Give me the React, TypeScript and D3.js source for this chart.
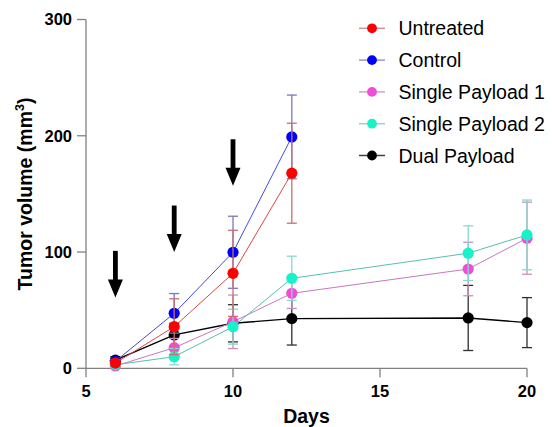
import React from "react";
import * as d3 from "d3";

const days = [6, 8, 10, 12, 18, 20];

const untreated = [4.5, 35.8, 81.7, 167.8];
const untreatedErr = [3, 24, 37, 43];
const control = [6, 47.3, 99.8, 199];
const controlErr = [3, 17, 31, 36];
const single1 = [2, 17.7, 40, 64.5, 85.4, 111.9];
const single1Err = [2, 8, 23, 13, 23, 31];
const single2 = [3, 10, 35.8, 77.4, 99, 114.7];
const single2Err = [2, 7, 15, 19, 23.5, 30];
const dual = [7, 28.7, 38.7, 42.7, 43.3, 39.3];
const dualErr = [3, 10, 16, 22.7, 28, 21.5];

const arrowDays = [6, 8, 10];
const arrowTips = [61, 100, 157];
const arrowLen = 40;

const xTicks = [5, 10, 15, 20];
const yTicks = [0, 100, 200, 300];

type Series = {
  name: string;
  values: number[];
  errs: number[];
  fill: string;
  line: string;
  bar: string;
  legendLine: string;
  lineWidth: number;
};

const series: Series[] = [
  { name: "Untreated", values: untreated, errs: untreatedErr, fill: "#ff0000", line: "#d84848", bar: "#c87070", legendLine: "#c89898", lineWidth: 1 },
  { name: "Control", values: control, errs: controlErr, fill: "#0000ff", line: "#4848e0", bar: "#7878c8", legendLine: "#9898c8", lineWidth: 1 },
  { name: "Single Payload 1", values: single1, errs: single1Err, fill: "#f04cd8", line: "#c878c0", bar: "#c890c0", legendLine: "#c8a8c4", lineWidth: 1 },
  { name: "Single Payload 2", values: single2, errs: single2Err, fill: "#18f2c8", line: "#58c0b0", bar: "#88d8cc", legendLine: "#a8ccc4", lineWidth: 1 },
  { name: "Dual Payload", values: dual, errs: dualErr, fill: "#000000", line: "#000000", bar: "#303030", legendLine: "#404040", lineWidth: 1.4 },
];

// back-to-front order: red ends up on top like in the original
const drawOrder = [4, 2, 3, 1, 0];

const W = 552;
const H = 427;

export default function App() {
  const x = d3.scaleLinear().domain([5, 20]).range([86, 527]);
  const y = d3.scaleLinear().domain([0, 300]).range([368.3, 19.5]);
  const axisColor = "#808080";
  const line = d3
    .line<number>()
    .x((_, i) => x(days[i]))
    .y((d) => y(d));

  return (
    <svg
      width={W}
      height={H}
      style={{ position: "absolute", left: 0, top: 0, background: "#fff" }}
      fontFamily="Arial, 'Liberation Sans', sans-serif"
    >
      {/* y axis */}
      <line x1={x(5)} x2={x(5)} y1={y(0)} y2={y(300)} stroke={axisColor} strokeWidth={1.3} />
      {yTicks.map((t) => (
        <g key={"y" + t}>
          <line x1={x(5) - 9} x2={x(5)} y1={y(t)} y2={y(t)} stroke={axisColor} strokeWidth={1.3} />
          <text x={x(5) - 14} y={y(t)} dy="0.36em" textAnchor="end" fontWeight="bold" fontSize={16.5}>
            {t}
          </text>
        </g>
      ))}
      {/* x axis */}
      <line x1={x(5)} x2={x(20)} y1={y(0)} y2={y(0)} stroke={axisColor} strokeWidth={1.3} />
      {xTicks.map((t) => (
        <g key={"x" + t}>
          <line x1={x(t)} x2={x(t)} y1={y(0)} y2={y(0) + 9} stroke={axisColor} strokeWidth={1.3} />
          <text x={x(t)} y={397} textAnchor="middle" fontWeight="bold" fontSize={16.5}>
            {t}
          </text>
        </g>
      ))}
      <text x={306.5} y={423} textAnchor="middle" fontWeight="bold" fontSize={19.5}>
        Days
      </text>
      <text
        transform={`translate(32,${194}) rotate(-90)`}
        textAnchor="middle"
        fontWeight="bold"
        fontSize={19.5}
      >
        Tumor volume (mm<tspan fontSize={12.5} dy={-8}>3</tspan>
        <tspan dy={8}>)</tspan>
      </text>

      {/* treatment arrows */}
      {arrowDays.map((d, i) => {
        const cx = x(d);
        const tip = y(arrowTips[i]);
        const top = y(arrowTips[i] + arrowLen);
        return (
          <g key={"a" + d}>
            <rect x={cx - 2.4} y={top} width={4.8} height={tip - top - 12} fill="#000" />
            <path d={`M${cx - 7.5},${tip - 18} L${cx + 7.5},${tip - 18} L${cx},${tip} Z`} fill="#000" />
          </g>
        );
      })}

      {/* series */}
      {drawOrder.map((si) => {
        const s = series[si];
        return (
          <g key={s.name}>
            {s.values.map((v, i) => {
              const cx = x(days[i]);
              const hi = y(v + s.errs[i]);
              const lo = y(Math.max(0, v - s.errs[i]));
              return (
                <g key={i} stroke={s.bar} strokeWidth={1.3}>
                  <line x1={cx} x2={cx} y1={hi} y2={lo} />
                  <line x1={cx - 5} x2={cx + 5} y1={hi} y2={hi} />
                  <line x1={cx - 5} x2={cx + 5} y1={lo} y2={lo} />
                </g>
              );
            })}
            <path d={line(s.values) || ""} fill="none" stroke={s.line} strokeWidth={s.lineWidth} />
            {s.values.map((v, i) => (
              <circle key={"c" + i} cx={x(days[i])} cy={y(v)} r={5.6} fill={s.fill} />
            ))}
          </g>
        );
      })}

      {/* legend */}
      {series.map((s, i) => {
        const ly = 28.3 + i * 31.8;
        return (
          <g key={"l" + s.name}>
            <line x1={359} x2={385} y1={ly} y2={ly} stroke={s.legendLine} strokeWidth={1.5} />
            <circle cx={372} cy={ly} r={4.9} fill={s.fill} />
            <text x={398.5} y={ly} dy="0.36em" fontSize={19.5}>
              {s.name}
            </text>
          </g>
        );
      })}
    </svg>
  );
}
